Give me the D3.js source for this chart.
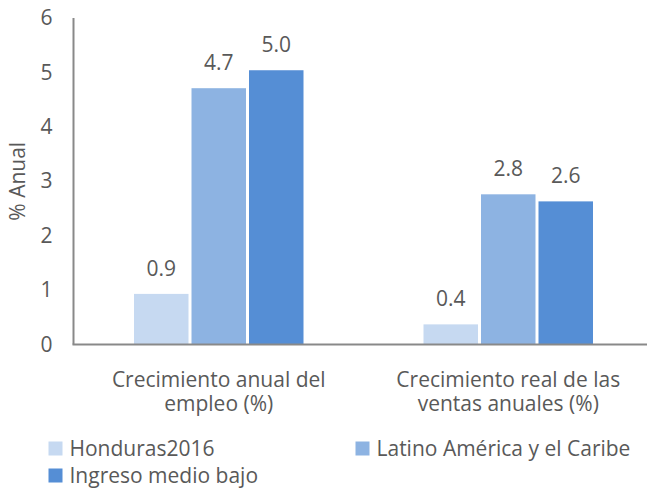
<!DOCTYPE html>
<html lang="es">
  <head>
    <meta charset="utf-8">
    <title>Crecimiento anual</title>
    <script src="https://d3js.org/d3.v7.min.js"></script>
    <style>
      body { margin: 0; background: #fff; }
      text { font-family: "Open Sans", Lato, sans-serif; fill: #595959; }
    </style>
  </head>
  <body>
    <div id="chart"></div>
    <script>
      // data
      var categories = ["empleo", "ventas"];
      var categoryLines = [
        ["Crecimiento anual del", "empleo (%)"],
        ["Crecimiento real de las", "ventas anuales (%)"]
      ];
      var seriesNames = ["Honduras2016", "Latino América y el Caribe", "Ingreso medio bajo"];
      var honduras = [0.93, 0.37];
      var latinoAmerica = [4.71, 2.76];
      var ingresoMedioBajo = [5.04, 2.63];
      var yTicks = [0, 1, 2, 3, 4, 5, 6];
      var colors = ["#C6D9F1", "#8DB3E2", "#558ED5"];

      var W = 647, H = 490;
      var FONT = 21;

      var svg = d3.select("#chart").append("svg")
        .attr("width", W)
        .attr("height", H);

      var x0 = d3.scaleBand()
        .domain(categories)
        .range([74, 653])
        .padding(0);

      var groupW = 172.5;
      var x1 = d3.scaleBand()
        .domain(seriesNames)
        .range([0, groupW])
        .padding(0);

      var y = d3.scaleLinear()
        .domain([0, 6])
        .range([344.5, 18]);

      var allSeries = [honduras, latinoAmerica, ingresoMedioBajo];

      // bars
      allSeries.forEach(function(vals, si) {
        categories.forEach(function(c, ci) {
          var gx = x0(c) + (x0.bandwidth() - groupW) / 2;
          var bx = gx + x1(seriesNames[si]) + 1.5;
          svg.append("rect")
            .attr("x", bx)
            .attr("y", y(vals[ci]))
            .attr("width", x1.bandwidth() - 3)
            .attr("height", y(0) - y(vals[ci]))
            .attr("fill", colors[si]);
          svg.append("text")
            .attr("x", bx + (x1.bandwidth() - 3) / 2)
            .attr("y", y(vals[ci]) - 18)
            .attr("text-anchor", "middle")
            .attr("font-size", FONT)
            .text(d3.format(".1f")(vals[ci]));
        });
      });

      // y axis
      var yAxis = d3.axisLeft(y).tickValues(yTicks).tickFormat(d3.format("d")).tickSize(0).tickPadding(21);
      var gy = svg.append("g")
        .attr("transform", "translate(73.5,0)")
        .call(yAxis);
      gy.select(".domain").remove();
      gy.selectAll("text")
        .attr("font-size", FONT)
        .attr("font-family", null)
        .attr("fill", null);

      svg.append("line")
        .attr("x1", 73.5).attr("x2", 73.5)
        .attr("y1", y(6)).attr("y2", y(0))
        .attr("stroke", "#898989")
        .attr("stroke-width", 2);

      svg.append("line")
        .attr("x1", 72.5).attr("x2", W)
        .attr("y1", y(0)).attr("y2", y(0))
        .attr("stroke", "#898989")
        .attr("stroke-width", 2);

      svg.append("text")
        .attr("transform", "translate(25," + (y(3)) + ") rotate(-90)")
        .attr("text-anchor", "middle")
        .attr("font-size", FONT)
        .text("% Anual");

      // category labels
      categories.forEach(function(c, ci) {
        var t = svg.append("text")
          .attr("text-anchor", "middle")
          .attr("font-size", FONT);
        categoryLines[ci].forEach(function(line, li) {
          t.append("tspan")
            .attr("x", x0(c) + x0.bandwidth() / 2)
            .attr("y", 386.5 + li * 24.5)
            .text(line);
        });
      });

      // legend
      var legendPos = [[48.5, 455.5], [355.5, 455.5], [48.5, 482.5]];
      seriesNames.forEach(function(name, si) {
        var g = svg.append("g")
          .attr("transform", "translate(" + legendPos[si][0] + "," + legendPos[si][1] + ")");
        g.append("rect")
          .attr("x", 0).attr("y", -14)
          .attr("width", 14).attr("height", 14)
          .attr("fill", colors[si]);
        g.append("text")
          .attr("x", 21)
          .attr("y", 0)
          .attr("font-size", FONT)
          .text(name);
      });
    </script>
  </body>
</html>
